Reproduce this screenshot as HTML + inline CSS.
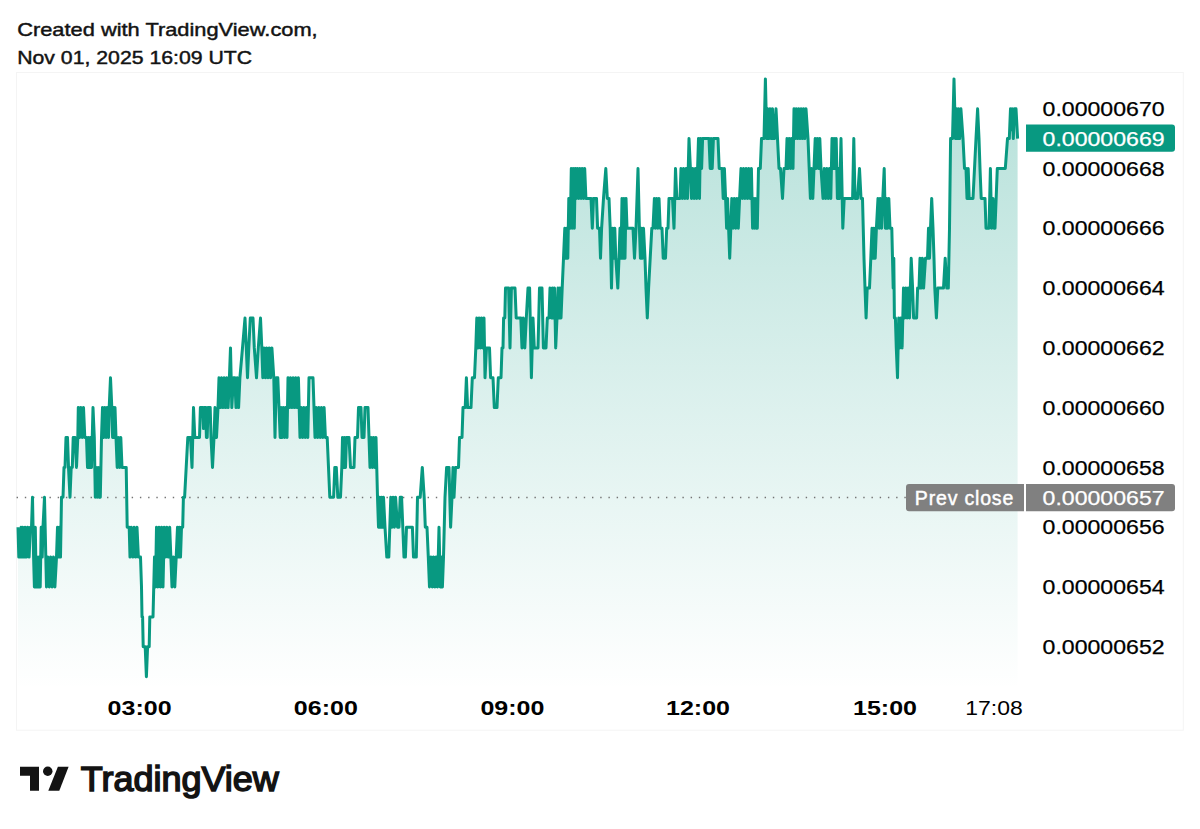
<!DOCTYPE html>
<html><head><meta charset="utf-8">
<style>
html,body{margin:0;padding:0;background:#fff;}
body{width:1200px;height:829px;overflow:hidden;position:relative;font-family:"Liberation Sans",sans-serif;}
svg{position:absolute;left:0;top:0;}
.hd{font-family:"Liberation Sans",sans-serif;font-size:19px;fill:#131313;stroke:#131313;stroke-width:0.45px;}
.ax{font-family:"Liberation Sans",sans-serif;font-size:19.5px;fill:#000;stroke:#000;stroke-width:0.25px;}
.axw{font-family:"Liberation Sans",sans-serif;font-size:19.5px;fill:#fff;stroke:#fff;stroke-width:0.25px;}
.tb{font-family:"Liberation Sans",sans-serif;font-size:19.8px;font-weight:bold;fill:#000;}
.tn{font-family:"Liberation Sans",sans-serif;font-size:19.5px;fill:#000;}
.pc{font-family:"Liberation Sans",sans-serif;font-size:19.5px;fill:#fff;stroke:#fff;stroke-width:0.45px;}
</style></head><body>
<svg width="1200" height="829" viewBox="0 0 1200 829">
<defs>
<linearGradient id="g" x1="0" y1="78" x2="0" y2="690" gradientUnits="userSpaceOnUse">
<stop offset="0" stop-color="#089981" stop-opacity="0.3"/>
<stop offset="1" stop-color="#089981" stop-opacity="0"/>
</linearGradient>
</defs>
<text x="17.2" y="36.3" class="hd" textLength="300.5" lengthAdjust="spacingAndGlyphs">Created with TradingView.com,</text>
<text x="17.2" y="63.8" class="hd" textLength="235" lengthAdjust="spacingAndGlyphs">Nov 01, 2025 16:09 UTC</text>
<rect x="16.5" y="72.5" width="1166.8" height="657.7" fill="none" stroke="#f4f4f4" stroke-width="1"/>
<path d="M18.0,527.2 L18.8,557.1 L20.3,557.1 L21.1,527.2 L22.0,557.1 L22.8,527.2 L23.6,557.1 L24.4,557.1 L25.2,527.2 L26.5,557.1 L27.8,527.2 L29.1,557.1 L30.4,527.2 L31.5,527.2 L32.5,497.3 L33.6,557.1 L34.4,587.0 L35.3,527.2 L36.2,587.0 L37.2,557.1 L38.2,587.0 L39.2,557.1 L40.2,587.0 L41.2,527.2 L42.2,557.1 L43.0,527.2 L44.5,497.3 L45.8,557.1 L46.5,587.0 L47.9,557.1 L49.3,587.0 L50.7,557.1 L52.1,587.0 L53.5,557.1 L54.9,587.0 L56.5,557.1 L57.5,527.2 L58.5,557.1 L59.5,527.2 L60.5,557.1 L61.5,497.3 L63.0,497.3 L64.0,467.4 L65.0,467.4 L66.0,437.5 L67.5,437.5 L68.5,467.4 L70.0,497.3 L71.2,467.4 L72.3,467.4 L73.2,437.5 L75.0,437.5 L76.5,467.4 L77.8,437.5 L78.3,407.6 L79.6,437.5 L80.9,407.6 L82.2,437.5 L83.5,407.6 L84.8,437.5 L86.5,437.5 L87.5,467.4 L88.5,437.5 L89.5,467.4 L90.5,437.5 L91.5,467.4 L93.0,407.6 L94.3,437.5 L95.3,497.3 L96.3,467.4 L97.3,497.3 L98.3,467.4 L99.3,497.3 L100.3,497.3 L101.5,437.5 L102.5,407.6 L103.7,437.5 L104.9,407.6 L106.1,437.5 L107.3,407.6 L108.5,437.5 L109.2,407.6 L110.5,377.8 L111.8,407.6 L112.6,437.5 L113.4,407.6 L114.2,437.5 L115.0,407.6 L116.0,437.5 L117.2,467.4 L118.4,437.5 L119.6,467.4 L120.8,437.5 L122.0,467.4 L123.0,467.4 L126.2,467.4 L127.2,527.2 L129.2,527.2 L130.0,557.1 L131.4,527.2 L132.8,557.1 L134.2,527.2 L135.6,557.1 L137.0,527.2 L138.4,557.1 L140.5,557.1 L141.5,587.0 L142.0,616.9 L142.6,616.9 L143.2,646.8 L145.2,646.8 L146.4,676.7 L147.6,646.8 L149.2,646.8 L149.8,616.9 L153.0,616.9 L154.5,557.1 L155.5,587.0 L156.5,527.2 L157.8,587.0 L159.1,527.2 L160.4,587.0 L161.7,527.2 L163.0,587.0 L164.3,527.2 L165.5,557.1 L166.9,527.2 L168.3,557.1 L169.7,527.2 L172.0,587.0 L173.4,557.1 L174.8,587.0 L176.2,557.1 L177.5,527.2 L178.5,557.1 L179.5,527.2 L180.5,557.1 L181.5,527.2 L182.7,527.2 L183.4,497.3 L184.6,497.3 L186.2,467.4 L187.8,437.5 L190.5,437.5 L192.0,467.4 L193.5,407.6 L194.8,437.5 L199.5,437.5 L200.4,407.6 L202.8,407.6 L203.5,428.6 L204.2,407.6 L205.6,407.6 L206.4,437.5 L207.2,437.5 L208.0,407.6 L210.2,407.6 L211.0,437.5 L212.5,467.4 L214.0,437.5 L215.0,407.6 L216.5,437.5 L218.0,407.6 L219.0,377.8 L220.3,407.6 L221.6,377.8 L222.9,407.6 L224.2,377.8 L225.5,407.6 L226.8,377.8 L228.1,407.6 L229.4,377.8 L230.5,347.9 L231.8,407.6 L233.5,377.8 L234.8,377.8 L236.0,407.6 L237.3,377.8 L238.6,407.6 L239.9,377.8 L242.5,347.9 L245.0,318.0 L246.3,347.9 L247.5,377.8 L248.8,347.9 L250.3,318.0 L253.0,318.0 L254.3,347.9 L256.5,377.8 L258.3,347.9 L260.5,318.0 L261.8,347.9 L262.8,377.8 L264.1,347.9 L265.4,377.8 L266.7,347.9 L268.0,377.8 L269.3,347.9 L270.6,377.8 L271.9,347.9 L273.8,377.8 L275.0,437.5 L276.3,377.8 L277.8,377.8 L279.0,407.6 L280.2,437.5 L281.2,407.6 L282.2,437.5 L283.4,407.6 L284.6,437.5 L285.8,407.6 L287.0,437.5 L288.0,377.8 L289.3,407.6 L290.6,377.8 L291.9,407.6 L293.2,377.8 L294.5,407.6 L295.8,377.8 L297.1,407.6 L298.4,377.8 L300.0,437.5 L301.3,407.6 L302.6,437.5 L303.9,407.6 L305.2,437.5 L306.5,407.6 L307.8,437.5 L309.0,377.8 L313.0,377.8 L314.0,407.6 L315.0,437.5 L316.3,407.6 L317.6,437.5 L318.9,407.6 L320.2,437.5 L321.5,407.6 L322.8,437.5 L324.1,407.6 L325.4,437.5 L327.2,437.5 L328.5,467.4 L329.8,497.3 L333.6,497.3 L334.8,467.4 L336.3,467.4 L337.8,497.3 L340.5,497.3 L341.8,467.4 L342.5,437.5 L343.5,467.4 L344.5,437.5 L345.5,467.4 L346.5,437.5 L349.0,437.5 L350.5,467.4 L354.0,467.4 L355.0,437.5 L357.5,437.5 L358.5,407.6 L361.0,407.6 L362.0,437.5 L364.0,437.5 L365.0,407.6 L368.0,407.6 L369.0,437.5 L370.0,467.4 L371.2,437.5 L372.4,467.4 L373.6,437.5 L374.8,467.4 L376.0,437.5 L377.5,497.3 L378.5,527.2 L379.5,497.3 L380.5,527.2 L381.5,497.3 L382.5,527.2 L383.5,497.3 L385.0,527.2 L386.8,557.1 L388.8,557.1 L389.8,527.2 L390.8,497.3 L392.0,527.2 L393.2,497.3 L394.4,527.2 L395.6,497.3 L397.5,527.2 L399.0,527.2 L400.2,497.3 L401.6,497.3 L402.8,527.2 L404.0,557.1 L405.4,557.1 L406.5,527.2 L412.4,527.2 L413.5,557.1 L416.3,557.1 L417.5,497.3 L420.2,497.3 L422.3,467.4 L424.2,497.3 L425.3,527.2 L427.0,527.2 L428.3,557.1 L429.5,587.0 L431.0,557.1 L432.3,587.0 L433.6,557.1 L434.9,587.0 L436.2,557.1 L437.5,587.0 L439.0,527.2 L440.3,587.0 L441.3,557.1 L442.4,587.0 L443.5,557.1 L445.0,497.3 L446.6,467.4 L449.0,467.4 L450.6,527.2 L452.0,497.3 L453.0,467.4 L454.0,497.3 L455.5,467.4 L458.5,467.4 L459.5,437.5 L462.0,437.5 L463.0,407.6 L465.2,407.6 L466.4,377.8 L467.6,407.6 L471.0,407.6 L472.3,377.8 L474.5,377.8 L475.8,347.9 L476.8,318.0 L478.0,347.9 L479.2,318.0 L480.4,347.9 L481.6,318.0 L482.8,347.9 L484.0,318.0 L485.0,377.8 L486.5,347.9 L489.5,347.9 L490.6,377.8 L493.0,377.8 L494.3,407.6 L497.0,407.6 L498.3,377.8 L501.0,377.8 L502.0,347.9 L503.0,347.9 L503.6,318.0 L504.8,318.0 L505.5,288.1 L508.6,288.1 L510.0,347.9 L511.4,288.1 L515.0,288.1 L516.2,318.0 L520.8,318.0 L522.0,347.9 L523.3,318.0 L524.8,347.9 L526.3,318.0 L528.0,288.1 L529.6,288.1 L531.4,377.8 L533.0,318.0 L534.3,347.9 L538.0,347.9 L539.5,288.1 L542.0,288.1 L543.4,347.9 L546.0,347.9 L547.3,318.0 L549.0,318.0 L550.0,288.1 L551.5,318.0 L552.5,288.1 L553.5,318.0 L554.5,288.1 L555.7,347.9 L557.0,318.0 L558.0,288.1 L559.0,318.0 L560.0,288.1 L561.0,318.0 L562.2,288.1 L563.5,258.2 L564.8,228.3 L565.8,258.2 L566.8,228.3 L567.8,258.2 L568.8,198.4 L570.3,228.3 L571.3,168.5 L572.3,228.3 L573.3,168.5 L574.3,228.3 L575.3,168.5 L576.3,198.4 L577.5,168.5 L578.7,198.4 L579.9,168.5 L581.1,198.4 L582.3,168.5 L583.5,198.4 L584.7,168.5 L585.9,198.4 L587.0,198.4 L591.0,198.4 L592.3,228.3 L593.5,198.4 L596.5,198.4 L597.6,228.3 L599.5,228.3 L600.5,258.2 L601.6,228.3 L603.5,198.4 L605.8,168.5 L607.3,198.4 L609.0,198.4 L610.2,228.3 L611.5,288.1 L612.8,228.3 L613.8,258.2 L614.8,228.3 L615.8,258.2 L617.8,288.1 L619.0,258.2 L620.0,228.3 L621.0,258.2 L622.0,198.4 L623.0,258.2 L624.0,198.4 L625.0,258.2 L626.0,198.4 L627.0,228.3 L633.0,228.3 L634.5,258.2 L636.0,228.3 L638.0,168.5 L639.4,228.3 L640.4,258.2 L641.4,228.3 L642.4,258.2 L643.5,228.3 L645.0,258.2 L646.0,288.1 L647.3,318.0 L648.6,288.1 L650.2,258.2 L651.8,228.3 L653.0,228.3 L654.4,198.4 L655.4,228.3 L656.6,198.4 L657.8,228.3 L659.0,198.4 L660.2,228.3 L662.0,228.3 L663.2,258.2 L665.5,258.2 L666.7,228.3 L668.0,228.3 L669.0,198.4 L672.5,198.4 L674.0,228.3 L675.5,168.5 L676.8,198.4 L680.0,198.4 L681.0,168.5 L682.3,198.4 L683.6,168.5 L684.9,198.4 L686.2,168.5 L687.5,198.4 L689.0,138.6 L690.4,168.5 L691.5,198.4 L692.8,168.5 L694.1,198.4 L695.4,168.5 L696.7,198.4 L698.5,138.6 L699.5,198.4 L700.4,138.6 L701.6,168.5 L702.6,138.6 L709.0,138.6 L710.2,168.5 L711.2,138.6 L712.2,168.5 L713.4,138.6 L718.0,138.6 L719.2,168.5 L722.0,168.5 L723.2,198.4 L724.4,168.5 L725.6,198.4 L726.6,228.3 L727.6,198.4 L728.6,228.3 L729.7,258.2 L730.8,228.3 L731.8,198.4 L733.1,228.3 L734.4,198.4 L735.7,228.3 L737.0,198.4 L738.3,228.3 L739.6,198.4 L741.0,168.5 L742.3,198.4 L743.6,168.5 L744.9,198.4 L746.2,168.5 L747.5,198.4 L748.8,168.5 L750.1,198.4 L751.4,168.5 L752.6,228.3 L753.5,198.4 L754.4,228.3 L755.3,198.4 L756.2,228.3 L757.3,228.3 L758.5,168.5 L760.3,168.5 L761.5,138.6 L764.0,138.6 L765.4,78.9 L766.7,138.6 L767.7,108.8 L768.9,138.6 L770.1,108.8 L771.3,138.6 L772.5,108.8 L773.5,138.6 L774.5,138.6 L776.0,108.8 L777.5,138.6 L779.0,168.5 L780.5,168.5 L782.5,198.4 L784.0,168.5 L786.0,168.5 L787.0,138.6 L788.2,168.5 L789.4,138.6 L790.6,168.5 L791.8,138.6 L793.0,168.5 L794.0,108.8 L795.2,138.6 L796.4,108.8 L797.6,138.6 L798.8,108.8 L800.0,138.6 L801.2,108.8 L802.4,138.6 L803.6,108.8 L804.8,138.6 L806.0,108.8 L808.0,138.6 L809.2,168.5 L810.4,198.4 L811.6,168.5 L812.8,198.4 L814.0,168.5 L815.2,138.6 L816.2,168.5 L817.4,138.6 L818.6,168.5 L819.8,138.6 L821.0,168.5 L823.0,198.4 L824.3,168.5 L825.6,198.4 L826.9,168.5 L828.2,198.4 L829.5,168.5 L830.8,198.4 L832.0,138.6 L833.2,168.5 L834.2,138.6 L835.2,168.5 L836.2,138.6 L837.4,198.4 L838.6,168.5 L839.6,198.4 L841.0,138.6 L842.8,228.3 L844.2,198.4 L852.6,198.4 L853.8,138.6 L855.0,198.4 L857.5,198.4 L859.5,168.5 L861.0,198.4 L862.5,198.4 L864.0,258.2 L865.0,288.1 L866.1,318.0 L867.2,288.1 L869.5,288.1 L870.8,258.2 L872.0,228.3 L873.0,258.2 L874.0,228.3 L875.2,258.2 L876.4,228.3 L878.0,198.4 L879.2,228.3 L880.4,198.4 L881.6,228.3 L882.8,198.4 L884.2,168.5 L885.4,228.3 L886.4,198.4 L887.6,228.3 L888.8,198.4 L890.0,228.3 L891.8,228.3 L892.5,258.2 L893.2,288.1 L893.8,258.2 L894.4,318.0 L895.4,318.0 L896.3,347.9 L897.5,377.8 L898.7,318.0 L899.7,347.9 L900.9,318.0 L902.1,347.9 L903.5,288.1 L904.7,318.0 L905.9,288.1 L907.1,318.0 L908.3,288.1 L909.5,318.0 L911.2,258.2 L912.6,288.1 L913.6,318.0 L916.6,318.0 L917.6,288.1 L919.0,288.1 L920.0,258.2 L921.2,288.1 L922.4,258.2 L923.6,288.1 L925.5,258.2 L927.5,258.2 L928.5,228.3 L929.5,258.2 L930.5,228.3 L931.7,198.4 L933.0,228.3 L934.0,258.2 L934.8,288.1 L936.4,318.0 L937.8,288.1 L943.5,288.1 L945.2,258.2 L946.8,288.1 L948.3,288.1 L949.5,228.3 L950.6,138.6 L952.5,138.6 L954.0,78.9 L955.5,138.6 L956.5,108.8 L957.5,138.6 L958.5,108.8 L959.7,138.6 L960.9,108.8 L963.0,138.6 L964.5,168.5 L966.0,168.5 L967.0,198.4 L968.2,168.5 L969.2,198.4 L973.0,198.4 L974.5,168.5 L976.0,138.6 L977.6,108.8 L979.0,138.6 L980.0,168.5 L981.2,198.4 L985.0,198.4 L986.0,228.3 L989.0,228.3 L990.4,168.5 L991.6,228.3 L993.0,198.4 L994.0,228.3 L995.0,228.3 L997.3,168.5 L1005.3,168.5 L1007.5,138.6 L1009.3,138.6 L1010.5,108.8 L1011.3,129.7 L1012.2,108.8 L1013.3,138.6 L1014.5,108.8 L1016.0,108.8 L1017.6,138.6 L1017.6,690 L18.0,690 Z" fill="url(#g)"/>
<path d="M16.60,497.5h1.4 M24.82,497.5h1.4 M33.04,497.5h1.4 M41.26,497.5h1.4 M49.48,497.5h1.4 M57.70,497.5h1.4 M65.92,497.5h1.4 M74.14,497.5h1.4 M82.36,497.5h1.4 M90.58,497.5h1.4 M98.80,497.5h1.4 M107.02,497.5h1.4 M115.24,497.5h1.4 M123.46,497.5h1.4 M131.68,497.5h1.4 M139.90,497.5h1.4 M148.12,497.5h1.4 M156.34,497.5h1.4 M164.56,497.5h1.4 M172.78,497.5h1.4 M181.00,497.5h1.4 M189.22,497.5h1.4 M197.44,497.5h1.4 M205.66,497.5h1.4 M213.88,497.5h1.4 M222.10,497.5h1.4 M230.32,497.5h1.4 M238.54,497.5h1.4 M246.76,497.5h1.4 M254.98,497.5h1.4 M263.20,497.5h1.4 M271.42,497.5h1.4 M279.64,497.5h1.4 M287.86,497.5h1.4 M296.08,497.5h1.4 M304.30,497.5h1.4 M312.52,497.5h1.4 M320.74,497.5h1.4 M328.96,497.5h1.4 M337.18,497.5h1.4 M345.40,497.5h1.4 M353.62,497.5h1.4 M361.84,497.5h1.4 M370.06,497.5h1.4 M378.28,497.5h1.4 M386.50,497.5h1.4 M394.72,497.5h1.4 M402.94,497.5h1.4 M411.16,497.5h1.4 M419.38,497.5h1.4 M427.60,497.5h1.4 M435.82,497.5h1.4 M444.04,497.5h1.4 M452.26,497.5h1.4 M460.48,497.5h1.4 M468.70,497.5h1.4 M476.92,497.5h1.4 M485.14,497.5h1.4 M493.36,497.5h1.4 M501.58,497.5h1.4 M509.80,497.5h1.4 M518.02,497.5h1.4 M526.24,497.5h1.4 M534.46,497.5h1.4 M542.68,497.5h1.4 M550.90,497.5h1.4 M559.12,497.5h1.4 M567.34,497.5h1.4 M575.56,497.5h1.4 M583.78,497.5h1.4 M592.00,497.5h1.4 M600.22,497.5h1.4 M608.44,497.5h1.4 M616.66,497.5h1.4 M624.88,497.5h1.4 M633.10,497.5h1.4 M641.32,497.5h1.4 M649.54,497.5h1.4 M657.76,497.5h1.4 M665.98,497.5h1.4 M674.20,497.5h1.4 M682.42,497.5h1.4 M690.64,497.5h1.4 M698.86,497.5h1.4 M707.08,497.5h1.4 M715.30,497.5h1.4 M723.52,497.5h1.4 M731.74,497.5h1.4 M739.96,497.5h1.4 M748.18,497.5h1.4 M756.40,497.5h1.4 M764.62,497.5h1.4 M772.84,497.5h1.4 M781.06,497.5h1.4 M789.28,497.5h1.4 M797.50,497.5h1.4 M805.72,497.5h1.4 M813.94,497.5h1.4 M822.16,497.5h1.4 M830.38,497.5h1.4 M838.60,497.5h1.4 M846.82,497.5h1.4 M855.04,497.5h1.4 M863.26,497.5h1.4 M871.48,497.5h1.4 M879.70,497.5h1.4 M887.92,497.5h1.4 M896.14,497.5h1.4 M904.36,497.5h1.4" stroke="#737373" stroke-width="1.5" fill="none"/>
<path d="M18.0,527.2 L18.8,557.1 L20.3,557.1 L21.1,527.2 L22.0,557.1 L22.8,527.2 L23.6,557.1 L24.4,557.1 L25.2,527.2 L26.5,557.1 L27.8,527.2 L29.1,557.1 L30.4,527.2 L31.5,527.2 L32.5,497.3 L33.6,557.1 L34.4,587.0 L35.3,527.2 L36.2,587.0 L37.2,557.1 L38.2,587.0 L39.2,557.1 L40.2,587.0 L41.2,527.2 L42.2,557.1 L43.0,527.2 L44.5,497.3 L45.8,557.1 L46.5,587.0 L47.9,557.1 L49.3,587.0 L50.7,557.1 L52.1,587.0 L53.5,557.1 L54.9,587.0 L56.5,557.1 L57.5,527.2 L58.5,557.1 L59.5,527.2 L60.5,557.1 L61.5,497.3 L63.0,497.3 L64.0,467.4 L65.0,467.4 L66.0,437.5 L67.5,437.5 L68.5,467.4 L70.0,497.3 L71.2,467.4 L72.3,467.4 L73.2,437.5 L75.0,437.5 L76.5,467.4 L77.8,437.5 L78.3,407.6 L79.6,437.5 L80.9,407.6 L82.2,437.5 L83.5,407.6 L84.8,437.5 L86.5,437.5 L87.5,467.4 L88.5,437.5 L89.5,467.4 L90.5,437.5 L91.5,467.4 L93.0,407.6 L94.3,437.5 L95.3,497.3 L96.3,467.4 L97.3,497.3 L98.3,467.4 L99.3,497.3 L100.3,497.3 L101.5,437.5 L102.5,407.6 L103.7,437.5 L104.9,407.6 L106.1,437.5 L107.3,407.6 L108.5,437.5 L109.2,407.6 L110.5,377.8 L111.8,407.6 L112.6,437.5 L113.4,407.6 L114.2,437.5 L115.0,407.6 L116.0,437.5 L117.2,467.4 L118.4,437.5 L119.6,467.4 L120.8,437.5 L122.0,467.4 L123.0,467.4 L126.2,467.4 L127.2,527.2 L129.2,527.2 L130.0,557.1 L131.4,527.2 L132.8,557.1 L134.2,527.2 L135.6,557.1 L137.0,527.2 L138.4,557.1 L140.5,557.1 L141.5,587.0 L142.0,616.9 L142.6,616.9 L143.2,646.8 L145.2,646.8 L146.4,676.7 L147.6,646.8 L149.2,646.8 L149.8,616.9 L153.0,616.9 L154.5,557.1 L155.5,587.0 L156.5,527.2 L157.8,587.0 L159.1,527.2 L160.4,587.0 L161.7,527.2 L163.0,587.0 L164.3,527.2 L165.5,557.1 L166.9,527.2 L168.3,557.1 L169.7,527.2 L172.0,587.0 L173.4,557.1 L174.8,587.0 L176.2,557.1 L177.5,527.2 L178.5,557.1 L179.5,527.2 L180.5,557.1 L181.5,527.2 L182.7,527.2 L183.4,497.3 L184.6,497.3 L186.2,467.4 L187.8,437.5 L190.5,437.5 L192.0,467.4 L193.5,407.6 L194.8,437.5 L199.5,437.5 L200.4,407.6 L202.8,407.6 L203.5,428.6 L204.2,407.6 L205.6,407.6 L206.4,437.5 L207.2,437.5 L208.0,407.6 L210.2,407.6 L211.0,437.5 L212.5,467.4 L214.0,437.5 L215.0,407.6 L216.5,437.5 L218.0,407.6 L219.0,377.8 L220.3,407.6 L221.6,377.8 L222.9,407.6 L224.2,377.8 L225.5,407.6 L226.8,377.8 L228.1,407.6 L229.4,377.8 L230.5,347.9 L231.8,407.6 L233.5,377.8 L234.8,377.8 L236.0,407.6 L237.3,377.8 L238.6,407.6 L239.9,377.8 L242.5,347.9 L245.0,318.0 L246.3,347.9 L247.5,377.8 L248.8,347.9 L250.3,318.0 L253.0,318.0 L254.3,347.9 L256.5,377.8 L258.3,347.9 L260.5,318.0 L261.8,347.9 L262.8,377.8 L264.1,347.9 L265.4,377.8 L266.7,347.9 L268.0,377.8 L269.3,347.9 L270.6,377.8 L271.9,347.9 L273.8,377.8 L275.0,437.5 L276.3,377.8 L277.8,377.8 L279.0,407.6 L280.2,437.5 L281.2,407.6 L282.2,437.5 L283.4,407.6 L284.6,437.5 L285.8,407.6 L287.0,437.5 L288.0,377.8 L289.3,407.6 L290.6,377.8 L291.9,407.6 L293.2,377.8 L294.5,407.6 L295.8,377.8 L297.1,407.6 L298.4,377.8 L300.0,437.5 L301.3,407.6 L302.6,437.5 L303.9,407.6 L305.2,437.5 L306.5,407.6 L307.8,437.5 L309.0,377.8 L313.0,377.8 L314.0,407.6 L315.0,437.5 L316.3,407.6 L317.6,437.5 L318.9,407.6 L320.2,437.5 L321.5,407.6 L322.8,437.5 L324.1,407.6 L325.4,437.5 L327.2,437.5 L328.5,467.4 L329.8,497.3 L333.6,497.3 L334.8,467.4 L336.3,467.4 L337.8,497.3 L340.5,497.3 L341.8,467.4 L342.5,437.5 L343.5,467.4 L344.5,437.5 L345.5,467.4 L346.5,437.5 L349.0,437.5 L350.5,467.4 L354.0,467.4 L355.0,437.5 L357.5,437.5 L358.5,407.6 L361.0,407.6 L362.0,437.5 L364.0,437.5 L365.0,407.6 L368.0,407.6 L369.0,437.5 L370.0,467.4 L371.2,437.5 L372.4,467.4 L373.6,437.5 L374.8,467.4 L376.0,437.5 L377.5,497.3 L378.5,527.2 L379.5,497.3 L380.5,527.2 L381.5,497.3 L382.5,527.2 L383.5,497.3 L385.0,527.2 L386.8,557.1 L388.8,557.1 L389.8,527.2 L390.8,497.3 L392.0,527.2 L393.2,497.3 L394.4,527.2 L395.6,497.3 L397.5,527.2 L399.0,527.2 L400.2,497.3 L401.6,497.3 L402.8,527.2 L404.0,557.1 L405.4,557.1 L406.5,527.2 L412.4,527.2 L413.5,557.1 L416.3,557.1 L417.5,497.3 L420.2,497.3 L422.3,467.4 L424.2,497.3 L425.3,527.2 L427.0,527.2 L428.3,557.1 L429.5,587.0 L431.0,557.1 L432.3,587.0 L433.6,557.1 L434.9,587.0 L436.2,557.1 L437.5,587.0 L439.0,527.2 L440.3,587.0 L441.3,557.1 L442.4,587.0 L443.5,557.1 L445.0,497.3 L446.6,467.4 L449.0,467.4 L450.6,527.2 L452.0,497.3 L453.0,467.4 L454.0,497.3 L455.5,467.4 L458.5,467.4 L459.5,437.5 L462.0,437.5 L463.0,407.6 L465.2,407.6 L466.4,377.8 L467.6,407.6 L471.0,407.6 L472.3,377.8 L474.5,377.8 L475.8,347.9 L476.8,318.0 L478.0,347.9 L479.2,318.0 L480.4,347.9 L481.6,318.0 L482.8,347.9 L484.0,318.0 L485.0,377.8 L486.5,347.9 L489.5,347.9 L490.6,377.8 L493.0,377.8 L494.3,407.6 L497.0,407.6 L498.3,377.8 L501.0,377.8 L502.0,347.9 L503.0,347.9 L503.6,318.0 L504.8,318.0 L505.5,288.1 L508.6,288.1 L510.0,347.9 L511.4,288.1 L515.0,288.1 L516.2,318.0 L520.8,318.0 L522.0,347.9 L523.3,318.0 L524.8,347.9 L526.3,318.0 L528.0,288.1 L529.6,288.1 L531.4,377.8 L533.0,318.0 L534.3,347.9 L538.0,347.9 L539.5,288.1 L542.0,288.1 L543.4,347.9 L546.0,347.9 L547.3,318.0 L549.0,318.0 L550.0,288.1 L551.5,318.0 L552.5,288.1 L553.5,318.0 L554.5,288.1 L555.7,347.9 L557.0,318.0 L558.0,288.1 L559.0,318.0 L560.0,288.1 L561.0,318.0 L562.2,288.1 L563.5,258.2 L564.8,228.3 L565.8,258.2 L566.8,228.3 L567.8,258.2 L568.8,198.4 L570.3,228.3 L571.3,168.5 L572.3,228.3 L573.3,168.5 L574.3,228.3 L575.3,168.5 L576.3,198.4 L577.5,168.5 L578.7,198.4 L579.9,168.5 L581.1,198.4 L582.3,168.5 L583.5,198.4 L584.7,168.5 L585.9,198.4 L587.0,198.4 L591.0,198.4 L592.3,228.3 L593.5,198.4 L596.5,198.4 L597.6,228.3 L599.5,228.3 L600.5,258.2 L601.6,228.3 L603.5,198.4 L605.8,168.5 L607.3,198.4 L609.0,198.4 L610.2,228.3 L611.5,288.1 L612.8,228.3 L613.8,258.2 L614.8,228.3 L615.8,258.2 L617.8,288.1 L619.0,258.2 L620.0,228.3 L621.0,258.2 L622.0,198.4 L623.0,258.2 L624.0,198.4 L625.0,258.2 L626.0,198.4 L627.0,228.3 L633.0,228.3 L634.5,258.2 L636.0,228.3 L638.0,168.5 L639.4,228.3 L640.4,258.2 L641.4,228.3 L642.4,258.2 L643.5,228.3 L645.0,258.2 L646.0,288.1 L647.3,318.0 L648.6,288.1 L650.2,258.2 L651.8,228.3 L653.0,228.3 L654.4,198.4 L655.4,228.3 L656.6,198.4 L657.8,228.3 L659.0,198.4 L660.2,228.3 L662.0,228.3 L663.2,258.2 L665.5,258.2 L666.7,228.3 L668.0,228.3 L669.0,198.4 L672.5,198.4 L674.0,228.3 L675.5,168.5 L676.8,198.4 L680.0,198.4 L681.0,168.5 L682.3,198.4 L683.6,168.5 L684.9,198.4 L686.2,168.5 L687.5,198.4 L689.0,138.6 L690.4,168.5 L691.5,198.4 L692.8,168.5 L694.1,198.4 L695.4,168.5 L696.7,198.4 L698.5,138.6 L699.5,198.4 L700.4,138.6 L701.6,168.5 L702.6,138.6 L709.0,138.6 L710.2,168.5 L711.2,138.6 L712.2,168.5 L713.4,138.6 L718.0,138.6 L719.2,168.5 L722.0,168.5 L723.2,198.4 L724.4,168.5 L725.6,198.4 L726.6,228.3 L727.6,198.4 L728.6,228.3 L729.7,258.2 L730.8,228.3 L731.8,198.4 L733.1,228.3 L734.4,198.4 L735.7,228.3 L737.0,198.4 L738.3,228.3 L739.6,198.4 L741.0,168.5 L742.3,198.4 L743.6,168.5 L744.9,198.4 L746.2,168.5 L747.5,198.4 L748.8,168.5 L750.1,198.4 L751.4,168.5 L752.6,228.3 L753.5,198.4 L754.4,228.3 L755.3,198.4 L756.2,228.3 L757.3,228.3 L758.5,168.5 L760.3,168.5 L761.5,138.6 L764.0,138.6 L765.4,78.9 L766.7,138.6 L767.7,108.8 L768.9,138.6 L770.1,108.8 L771.3,138.6 L772.5,108.8 L773.5,138.6 L774.5,138.6 L776.0,108.8 L777.5,138.6 L779.0,168.5 L780.5,168.5 L782.5,198.4 L784.0,168.5 L786.0,168.5 L787.0,138.6 L788.2,168.5 L789.4,138.6 L790.6,168.5 L791.8,138.6 L793.0,168.5 L794.0,108.8 L795.2,138.6 L796.4,108.8 L797.6,138.6 L798.8,108.8 L800.0,138.6 L801.2,108.8 L802.4,138.6 L803.6,108.8 L804.8,138.6 L806.0,108.8 L808.0,138.6 L809.2,168.5 L810.4,198.4 L811.6,168.5 L812.8,198.4 L814.0,168.5 L815.2,138.6 L816.2,168.5 L817.4,138.6 L818.6,168.5 L819.8,138.6 L821.0,168.5 L823.0,198.4 L824.3,168.5 L825.6,198.4 L826.9,168.5 L828.2,198.4 L829.5,168.5 L830.8,198.4 L832.0,138.6 L833.2,168.5 L834.2,138.6 L835.2,168.5 L836.2,138.6 L837.4,198.4 L838.6,168.5 L839.6,198.4 L841.0,138.6 L842.8,228.3 L844.2,198.4 L852.6,198.4 L853.8,138.6 L855.0,198.4 L857.5,198.4 L859.5,168.5 L861.0,198.4 L862.5,198.4 L864.0,258.2 L865.0,288.1 L866.1,318.0 L867.2,288.1 L869.5,288.1 L870.8,258.2 L872.0,228.3 L873.0,258.2 L874.0,228.3 L875.2,258.2 L876.4,228.3 L878.0,198.4 L879.2,228.3 L880.4,198.4 L881.6,228.3 L882.8,198.4 L884.2,168.5 L885.4,228.3 L886.4,198.4 L887.6,228.3 L888.8,198.4 L890.0,228.3 L891.8,228.3 L892.5,258.2 L893.2,288.1 L893.8,258.2 L894.4,318.0 L895.4,318.0 L896.3,347.9 L897.5,377.8 L898.7,318.0 L899.7,347.9 L900.9,318.0 L902.1,347.9 L903.5,288.1 L904.7,318.0 L905.9,288.1 L907.1,318.0 L908.3,288.1 L909.5,318.0 L911.2,258.2 L912.6,288.1 L913.6,318.0 L916.6,318.0 L917.6,288.1 L919.0,288.1 L920.0,258.2 L921.2,288.1 L922.4,258.2 L923.6,288.1 L925.5,258.2 L927.5,258.2 L928.5,228.3 L929.5,258.2 L930.5,228.3 L931.7,198.4 L933.0,228.3 L934.0,258.2 L934.8,288.1 L936.4,318.0 L937.8,288.1 L943.5,288.1 L945.2,258.2 L946.8,288.1 L948.3,288.1 L949.5,228.3 L950.6,138.6 L952.5,138.6 L954.0,78.9 L955.5,138.6 L956.5,108.8 L957.5,138.6 L958.5,108.8 L959.7,138.6 L960.9,108.8 L963.0,138.6 L964.5,168.5 L966.0,168.5 L967.0,198.4 L968.2,168.5 L969.2,198.4 L973.0,198.4 L974.5,168.5 L976.0,138.6 L977.6,108.8 L979.0,138.6 L980.0,168.5 L981.2,198.4 L985.0,198.4 L986.0,228.3 L989.0,228.3 L990.4,168.5 L991.6,228.3 L993.0,198.4 L994.0,228.3 L995.0,228.3 L997.3,168.5 L1005.3,168.5 L1007.5,138.6 L1009.3,138.6 L1010.5,108.8 L1011.3,129.7 L1012.2,108.8 L1013.3,138.6 L1014.5,108.8 L1016.0,108.8 L1017.6,138.6" stroke="#089981" stroke-width="3" fill="none" stroke-linejoin="round" stroke-linecap="butt"/>
<text x="1042.6" y="115.8" class="ax" textLength="122" lengthAdjust="spacingAndGlyphs">0.00000670</text>
<text x="1042.6" y="175.6" class="ax" textLength="122" lengthAdjust="spacingAndGlyphs">0.00000668</text>
<text x="1042.6" y="235.4" class="ax" textLength="122" lengthAdjust="spacingAndGlyphs">0.00000666</text>
<text x="1042.6" y="295.2" class="ax" textLength="122" lengthAdjust="spacingAndGlyphs">0.00000664</text>
<text x="1042.6" y="355.0" class="ax" textLength="122" lengthAdjust="spacingAndGlyphs">0.00000662</text>
<text x="1042.6" y="414.8" class="ax" textLength="122" lengthAdjust="spacingAndGlyphs">0.00000660</text>
<text x="1042.6" y="474.5" class="ax" textLength="122" lengthAdjust="spacingAndGlyphs">0.00000658</text>
<text x="1042.6" y="534.3" class="ax" textLength="122" lengthAdjust="spacingAndGlyphs">0.00000656</text>
<text x="1042.6" y="594.1" class="ax" textLength="122" lengthAdjust="spacingAndGlyphs">0.00000654</text>
<text x="1042.6" y="653.9" class="ax" textLength="122" lengthAdjust="spacingAndGlyphs">0.00000652</text>
<path d="M1026,124.5 H1172 Q1175,124.5 1175,127.5 V148.8 Q1175,151.8 1172,151.8 H1026 Z" fill="#089981"/>
<text x="1042.6" y="145.7" class="axw" textLength="122" lengthAdjust="spacingAndGlyphs">0.00000669</text>
<path d="M909,484 H1024 V511.3 H909 Q906,511.3 906,508.3 V487 Q906,484 909,484 Z" fill="#808080"/>
<text x="914.8" y="504.5" class="pc" textLength="98.5" lengthAdjust="spacing">Prev close</text>
<path d="M1026,484 H1172 Q1175,484 1175,487 V508.3 Q1175,511.3 1172,511.3 H1026 Z" fill="#808080"/>
<text x="1042.6" y="504.6" class="axw" textLength="122" lengthAdjust="spacingAndGlyphs">0.00000657</text>
<text x="107.6" y="715.4" class="tb" textLength="64" lengthAdjust="spacingAndGlyphs">03:00</text>
<text x="293.8" y="715.4" class="tb" textLength="64" lengthAdjust="spacingAndGlyphs">06:00</text>
<text x="480.4" y="715.4" class="tb" textLength="64" lengthAdjust="spacingAndGlyphs">09:00</text>
<text x="666" y="715.4" class="tb" textLength="64" lengthAdjust="spacingAndGlyphs">12:00</text>
<text x="853" y="715.4" class="tb" textLength="64" lengthAdjust="spacingAndGlyphs">15:00</text>
<text x="965.3" y="715.4" class="tn" textLength="57.5" lengthAdjust="spacingAndGlyphs">17:08</text>
<g fill="#131313">
<path d="M20,766.75 H39 V790.7 H30 V775.75 H20 Z"/>
<circle cx="47.75" cy="771.25" r="4.75"/>
<path d="M57.9,766.75 H68.6 L59.3,790.7 H48.3 Z"/>
</g>
<text x="80.8" y="791.2" style="font-family:'Liberation Sans',sans-serif;font-size:35px;fill:#131313;stroke:#131313;stroke-width:1.5px" textLength="198" lengthAdjust="spacingAndGlyphs">TradingView</text>
</svg>
</body></html>
